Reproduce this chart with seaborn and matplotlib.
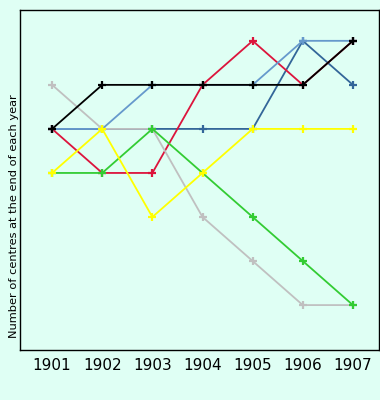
import pandas as pd
import numpy as np
import matplotlib
matplotlib.use("Agg")
import matplotlib.pyplot as plt
import seaborn as sns

years = [1901, 1902, 1903, 1904, 1905, 1906, 1907]

# one series per line, in drawing order (last one on top)
dark_blue = [5, 5, 5, 5, 5, 7, 6]
red = [5, 4, 4, 6, 7, 6, 7]
light_blue = [5, 5, 6, 6, 6, 7, 7]
gray = [6, 5, 5, 3, 2, 1, 1]
green = [4, 4, 5, 4, 3, 2, 1]
yellow = [4, 5, 3, 4, 5, 5, 5]
black = [5, 6, 6, 6, 6, 6, 7]

series = {
    "dark_blue": dark_blue,
    "red": red,
    "light_blue": light_blue,
    "gray": gray,
    "green": green,
    "yellow": yellow,
    "black": black,
}
colors = {
    "dark_blue": "#336699",
    "red": "#dc143c",
    "light_blue": "#6699cc",
    "gray": "#c0c0c0",
    "green": "#33cc33",
    "yellow": "#ffff00",
    "black": "#000000",
}

rows = []
for name, vals in series.items():
    for yr, v in zip(years, vals):
        rows.append({"year": yr, "centres": v, "line": name})
df = pd.DataFrame(rows)

sns.set_style("white")
plt.rcParams["font.family"] = ["DejaVu Sans"]

bg = "#dffff4"
fig = plt.figure(figsize=(3.8, 4.0), dpi=100, facecolor=bg)
ax = fig.add_axes([20 / 380, 50 / 400, 359 / 380, 340 / 400])
ax.set_facecolor(bg)

sns.lineplot(data=df, x="year", y="centres", hue="line",
             hue_order=list(series.keys()), palette=colors,
             marker="+", markersize=6, markeredgewidth=1.6,
             linewidth=1.3, legend=False, ax=ax)

# seaborn paints marker edges white, use the line colour instead
for ln in ax.lines:
    ln.set_markeredgecolor(ln.get_color())

ax.set_xlim(1900.36, 1907.52)
ax.set_ylim(-0.02, 7.7)
ax.set_xticks(years)
ax.set_xticklabels([str(y) for y in years], fontsize=11, color="black")
ax.set_yticks([])
ax.tick_params(axis="x", length=0, pad=6)
ax.set_xlabel("")
ax.set_ylabel("Number of centres at the end of each year", fontsize=8.2, color="black")
ax.yaxis.set_label_coords(-0.004, 0.394)
for s in ax.spines.values():
    s.set_color("black")
    s.set_linewidth(1)

fig.savefig("out.png", dpi=100, facecolor=bg)
